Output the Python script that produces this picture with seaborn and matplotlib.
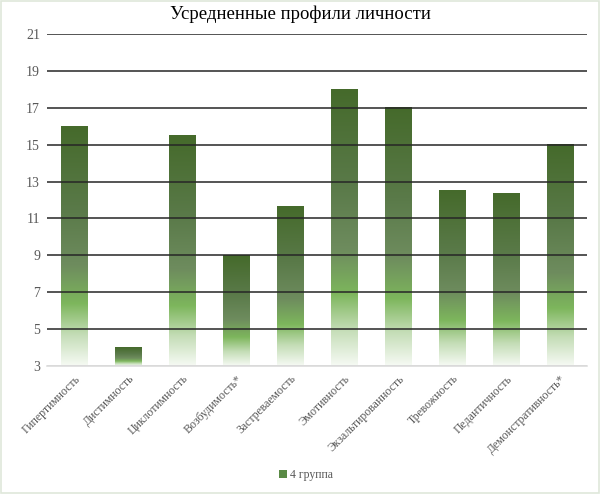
import numpy as np
import pandas as pd
import matplotlib
matplotlib.use("Agg")
import matplotlib.pyplot as plt
from matplotlib.colors import LinearSegmentedColormap
from matplotlib.patches import Rectangle, Patch
import seaborn as sns

categories = ["Гипертимность", "Дистимность", "Циклотимность", "Возбудимость*",
              "Застреваемость", "Эмотивность", "Экзальтированность", "Тревожность",
              "Педантичность", "Демонстративность*"]
values = [16, 4, 15.5, 9, 11.67, 18, 17, 12.5, 12.33, 15]
series_name = "4 группа"
title = "Усредненные профили личности"
yticks = [3, 5, 7, 9, 11, 13, 15, 17, 19, 21]

sns.set_theme(style="white")
plt.rcParams['font.family'] = ['Liberation Serif', 'DejaVu Serif']

df = pd.DataFrame({"cat": categories, "val": values})

fig = plt.figure(figsize=(6, 4.94), dpi=100)
ax = fig.add_axes([47/600, (494-366)/494, (587-47)/600, (366-34)/494])

sns.barplot(data=df, x="cat", y="val", ax=ax, width=0.5, color="#5d8a45")

cmap = LinearSegmentedColormap.from_list("g", [
    (0.0, "#456a2b"),
    (0.35, "#5a7a49"),
    (0.58, "#6e8c5e"),
    (0.74, "#7db65c"),
    (0.87, "#c4ddb6"),
    (1.0, "#f6faf4"),
])
grad = np.linspace(0, 1, 256).reshape(-1, 1)
for p in ax.patches:
    x0 = p.get_x(); w = p.get_width(); top = p.get_y() + p.get_height()
    ax.imshow(grad, cmap=cmap, aspect="auto", extent=[x0, x0 + w, 3, top],
              origin="upper", zorder=1, interpolation="bilinear")
    p.set_visible(False)
ax.set_ylim(3, 21)
ax.set_xlim(-0.5, len(categories) - 0.5)

ax.set_yticks(yticks)
ax.set_yticklabels([str(t) for t in yticks])
ax.set_axisbelow(False)
ax.grid(axis="y", color="#262626", linewidth=1.1, zorder=3)
ax.grid(axis="x", visible=False)
gls = ax.yaxis.get_gridlines()
gls[0].set_color("#d9d9d9")

for s in ["top", "right", "left"]:
    ax.spines[s].set_visible(False)
ax.spines["bottom"].set_color("#d9d9d9")
ax.spines["bottom"].set_linewidth(1.1)
ax.spines["bottom"].set_zorder(4)

ax.tick_params(axis="y", length=0, pad=5, labelsize=10, labelcolor="#595959")
ax.tick_params(axis="x", length=0, pad=5, labelsize=8.5, labelcolor="#595959")
for lbl in ax.get_xticklabels():
    lbl.set_rotation(45)
    lbl.set_ha("right")
    lbl.set_rotation_mode("anchor")
ax.set_xlabel("")
ax.set_ylabel("")

fig.text(0.5, 1 - 14/494, title, ha="center", va="center", fontsize=13.5, color="#000000")

handle = Patch(facecolor="#5a8a45", edgecolor="none")
fig.legend([handle], [series_name], loc="center", bbox_to_anchor=(0.51, 1 - 475/494),
           frameon=False, fontsize=8.5, handlelength=0.7, handleheight=0.7,
           handletextpad=0.3, labelcolor="#595959")

fig.patches.append(Rectangle((0.002, 0.002), 0.996, 0.996, transform=fig.transFigure,
                             fill=False, edgecolor="#dfe8da", linewidth=1.2))

fig.savefig("out.png", dpi=100, facecolor="white")
